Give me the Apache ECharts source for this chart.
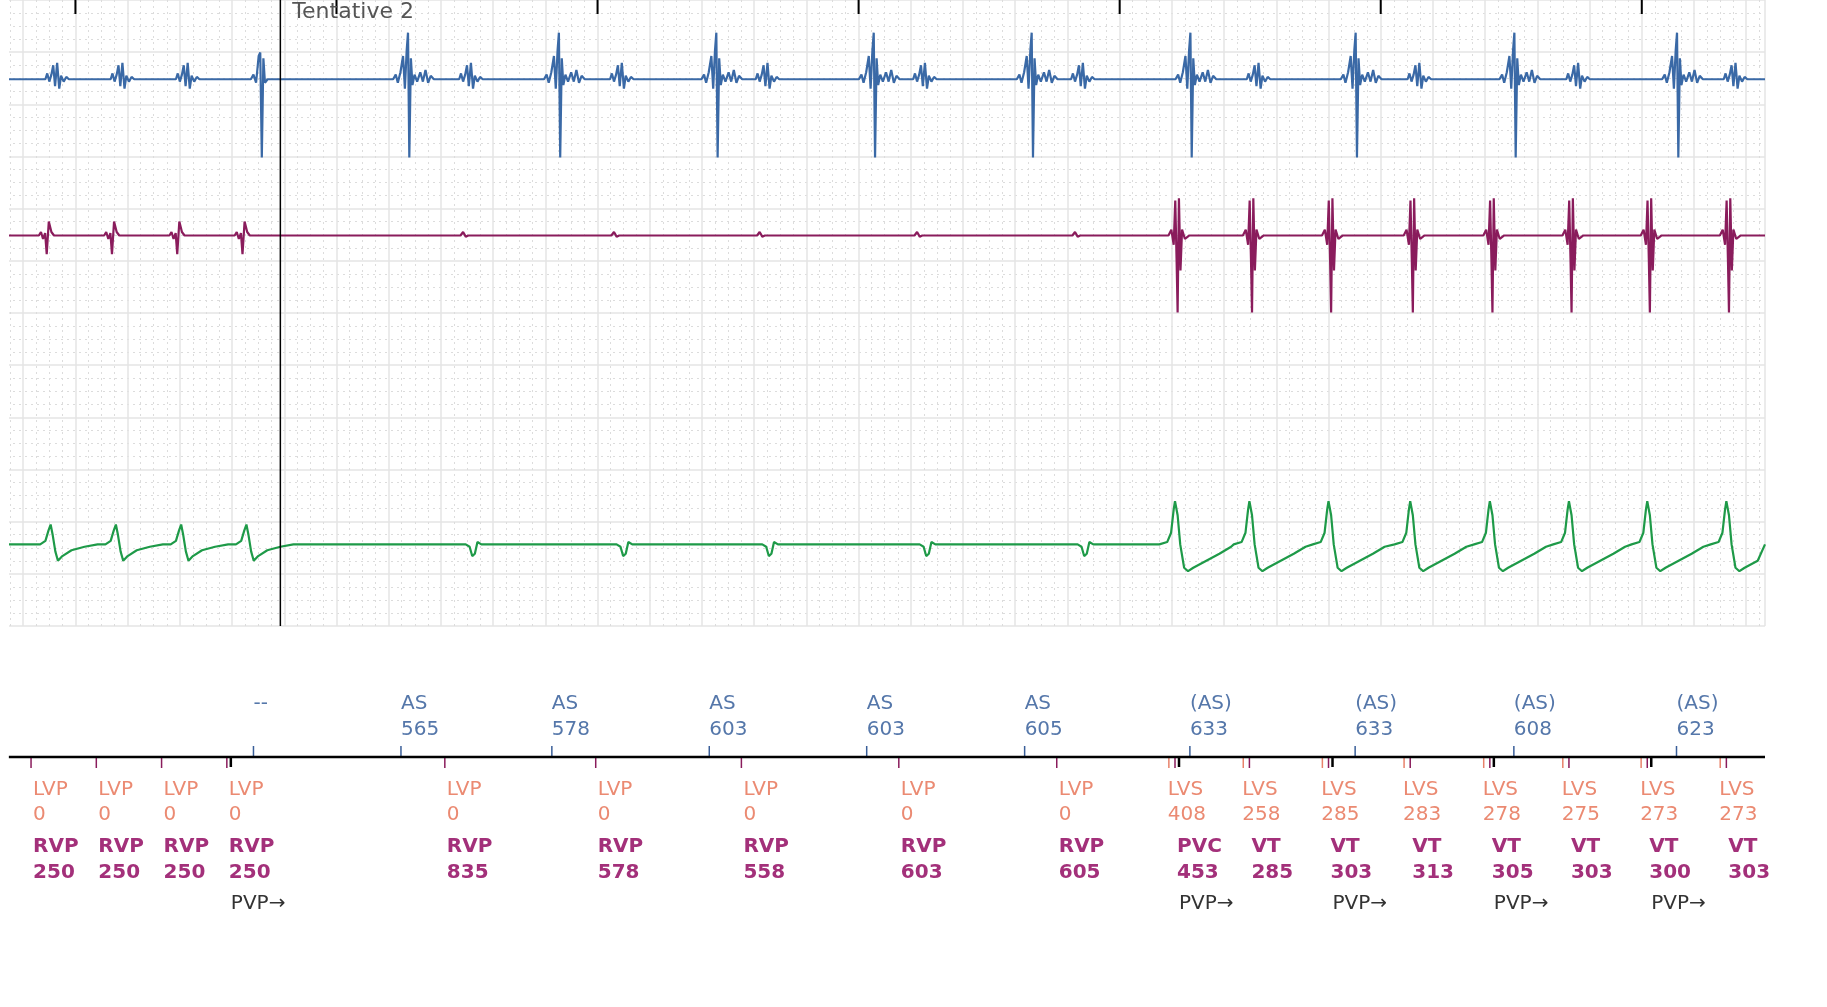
<!DOCTYPE html>
<html><head><meta charset="utf-8">
<script src="https://cdn.jsdelivr.net/npm/echarts@6/dist/echarts.min.js"></script>
<style>html,body{margin:0;padding:0;background:#fff;overflow:hidden}#c{position:absolute;left:-29px;top:0;width:1856px;height:1007px}</style>
</head><body><div id="c"></div>
<script>
// ---- data (time in ms, axis origin chosen so grid lines fall on multiples of 200) ----
const vStart = 230;
const rvLabels = ['RVP','RVP','RVP','RVP','RVP','RVP','RVP','RVP','RVP','PVC','VT','VT','VT','VT','VT','VT','VT'];
const rvValues = [250,250,250,250,835,578,558,603,605,453,285,303,313,305,303,300,303];
const lvLabels = ['LVP','LVP','LVP','LVP','LVP','LVP','LVP','LVP','LVP','LVS','LVS','LVS','LVS','LVS','LVS','LVS','LVS'];
const lvValues = [0,0,0,0,0,0,0,0,0,408,258,285,283,278,275,273,273];
const asStart = 1082;
const asLabels = ['--','AS','AS','AS','AS','AS','(AS)','(AS)','(AS)','(AS)'];
const asValues = ['',565,578,603,603,605,633,633,608,623];
const pvpIndex = [3,9,11,13,15];
const secondTicks = [400,1400,2400,3400,4400,5400,6400];
const cursorTime = 1185;
const cursorLabel = 'Tentative 2';

// beat templates: [dt ms, dy px (down +)]
const blueSmall = [[-45,0],[-38,-5],[-30,2],[-22,-4],[-15,-12],[-8,6],[0,-14],[8,8],[15,-3],[25,2],[35,-2],[45,0]];
const blueBig = [[-60,0],[-50,-4],[-42,3],[-32,-6],[-22,-20],[-15,8],[-8,-25],[-3,-40],[2,67],[8,-18],[14,5],[22,-4],[32,2],[44,-6],[54,2],[64,-8],[74,3],[84,-3],[96,0]];
const blueFirst = [[-40,0],[-30,-4],[-20,3],[-10,-20],[-4,-23],[2,67],[8,-18],[14,3],[24,0]];
const magSmall = [[-30,0],[-22,-3],[-14,3],[-6,-2],[0,16],[8,-12],[18,-3],[28,0]];
const magBump = [[-10,0],[0,-3],[10,1],[20,0]];
const magBig = [[-35,0],[-24,-5],[-15,8],[-9,-30],[-4,20],[0,66],[5,-32],[11,30],[17,-5],[28,3],[45,0]];
const grnPaced = [[-40,0],[-20,-3],[-8,-12],[0,-17],[8,-8],[18,6],[28,14],[45,10],[80,5],[130,2],[180,0]];
const grnSinus = [[-20,0],[-5,2],[5,10],[15,8],[25,-2],[40,0]];
const grnVT = [[-60,0],[-30,-2],[-15,-10],[-5,-30],[0,-37],[10,-25],[20,0],[35,20],[50,23],[70,20],[120,14],[170,8],[215,2]];

// ---- derived times ----
const vTimes = []; rvValues.forEach((v,i)=>vTimes.push(i===0?vStart:vTimes[i-1]+v));
const asTimes = []; asValues.forEach((v,i)=>asTimes.push(i===0?asStart:asTimes[i-1]+v));
const X0 = 145, X1 = 6872;

function build(base, beats){
  const pts=[[X0,base]];
  beats.forEach(b=>b.tpl.forEach(p=>{const t=b.t+p[0]; if(t>X0&&t<X1) pts.push([t,base+p[1]]);}));
  pts.sort((a,b)=>a[0]-b[0]); pts.push([X1,base]); return pts;
}
const blueBeats=[], magBeats=[], grnBeats=[];
vTimes.forEach((t,i)=>{
  if(i<3) blueBeats.push({t:t+100,tpl:blueSmall});
  else if(i>=4&&i<=8) blueBeats.push({t:t+100,tpl:blueSmall});
  else if(i>=10&&i%2===0) blueBeats.push({t:t+35,tpl:blueSmall});
  if(i<=3){magBeats.push({t:t+60,tpl:magSmall}); grnBeats.push({t:t+75,tpl:grnPaced});}
  else if(i<=8){magBeats.push({t:t+70,tpl:magBump}); grnBeats.push({t:t+100,tpl:grnSinus});}
  else {magBeats.push({t:t+10,tpl:magBig}); grnBeats.push({t:t,tpl:grnVT});}
});
asTimes.forEach((t,i)=>{
  if(i===0) blueBeats.push({t:t+30,tpl:blueFirst});
  else if(i<=5) blueBeats.push({t:t+30,tpl:blueBig});
  else blueBeats.push({t:t+5,tpl:blueBig});
});
const blueData=build(68,blueBeats), magData=build(202,magBeats), grnData=build(467,grnBeats);

const FONT='DejaVu Sans';
const markerY=757;
function txt(x,y,s,c,w){return {type:'text',style:{text:String(s),x:x,y:y,fill:c,font:(w||'normal')+' 20px "'+FONT+'"',textVerticalAlign:'middle'}};}
function ln(x1,y1,x2,y2,c,w){return {type:'line',shape:{x1,y1,x2,y2},style:{stroke:c,lineWidth:w||1.5}};}

const chart=echarts.init(document.getElementById('c'));
chart.setOption({
  animation:false,
  grid:[{left:0,right:62,top:0,height:626},{left:0,right:62,top:0,height:1007}],
  xAxis:[
    {type:'value',gridIndex:0,min:0,max:X1,interval:200,axisLine:{show:false},axisTick:{show:false},axisLabel:{show:false},
     splitLine:{show:true,lineStyle:{color:'#e4e4e4',width:1.5}},minorTick:{show:false,splitNumber:4},minorSplitLine:{show:true,lineStyle:{color:'#dcdcdc',type:[2,4],width:1}}},
    {type:'value',gridIndex:1,min:0,max:X1,show:false}
  ],
  yAxis:[
    {type:'value',gridIndex:0,min:0,max:537,interval:44.75,inverse:true,axisLine:{show:false},axisTick:{show:false},axisLabel:{show:false},
     splitLine:{show:true,lineStyle:{color:'#e4e4e4',width:1.5}},minorTick:{show:false,splitNumber:4},minorSplitLine:{show:true,lineStyle:{color:'#dcdcdc',type:[2,4],width:1}}},
    {type:'value',gridIndex:1,min:0,max:1007,inverse:true,show:false}
  ],
  graphic:[{type:'rect',left:0,top:0,shape:{width:38,height:630},style:{fill:'#fff'},z:100}],
  series:[
    {type:'line',xAxisIndex:0,yAxisIndex:0,data:blueData,showSymbol:false,lineStyle:{color:'#3a69a6',width:2.2}},
    {type:'line',xAxisIndex:0,yAxisIndex:0,data:magData,showSymbol:false,lineStyle:{color:'#8a1c5c',width:2.2}},
    {type:'line',xAxisIndex:0,yAxisIndex:0,data:grnData,showSymbol:false,lineStyle:{color:'#1e9a48',width:2.2}},
    {type:'line',xAxisIndex:0,yAxisIndex:0,data:[[cursorTime,0],[cursorTime,537]],showSymbol:false,lineStyle:{color:'#000',width:1.5},z:5},
    {type:'custom',xAxisIndex:1,yAxisIndex:1,data:[[cursorTime]],z:6,renderItem:(p,api)=>{const x=api.coord([api.value(0),0])[0];
      return {type:'text',style:{text:cursorLabel,x:x+12,y:12,fill:'#555',font:'22px "'+FONT+'"',textVerticalAlign:'middle'}};}},
    {type:'custom',xAxisIndex:1,yAxisIndex:1,data:secondTicks.map(t=>[t]),renderItem:(p,api)=>{const x=api.coord([api.value(0),0])[0];
      return ln(x,0,x,14,'#000',2);}},
    {type:'line',xAxisIndex:1,yAxisIndex:1,data:[[X0,markerY],[X1,markerY]],showSymbol:false,lineStyle:{color:'#000',width:2.5}},
    {type:'custom',xAxisIndex:1,yAxisIndex:1,data:asTimes.map((t,i)=>[t,i]),renderItem:(p,api)=>{
      const i=api.value(1);const x=api.coord([api.value(0),0])[0];const c='#5577aa';
      const ch=[ln(x,markerY-11,x,markerY,'#3a5f99',1.5),txt(x,704,asLabels[i],c)];
      if(asValues[i]!=='') ch.push(txt(x,730,asValues[i],c));
      return {type:'group',children:ch};}},
    {type:'custom',xAxisIndex:1,yAxisIndex:1,data:vTimes.map((t,i)=>[t,i]),renderItem:(p,api)=>{
      const i=api.value(1);const t=api.value(0);const x=api.coord([t,0])[0];
      const lvs=lvLabels[i]==='LVS';const xl=lvs?api.coord([t-35,0])[0]:x;
      const ch=[ln(x,markerY,x,markerY+11,'#8a1c5c',1.5)];
      if(lvs) ch.push(ln(xl+3,markerY,xl+3,markerY+11,'#e8826a',1.5));
      ch.push(txt(xl+2,790,lvLabels[i],'#eb8a72'),txt(xl+2,815,lvValues[i],'#eb8a72'));
      ch.push(txt(x+2,847,rvLabels[i],'#a3307a','bold'),txt(x+2,873,rvValues[i],'#a3307a','bold'));
      if(pvpIndex.indexOf(i)>=0){ch.push(ln(x+4,markerY,x+4,markerY+10,'#000',2.5),txt(x+4,904,'PVP\u2192','#333'));}
      return {type:'group',children:ch};}}
  ]
});
</script></body></html>
